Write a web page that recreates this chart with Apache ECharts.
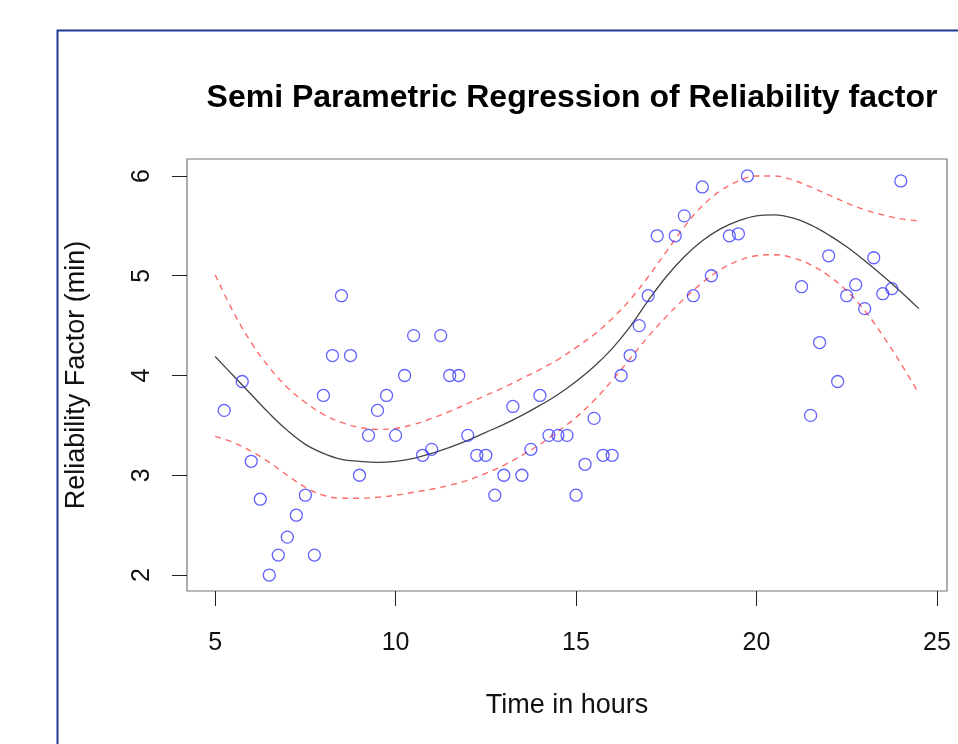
<!DOCTYPE html>
<html>
<head>
<meta charset="utf-8">
<script src="https://cdn.jsdelivr.net/npm/echarts@6/dist/echarts.min.js"></script>
<style>html,body{margin:0;padding:0;background:#fff;}#c{width:958px;height:744px;}</style>
</head>
<body>
<div id="c"></div>
<script>
// Observed data
var obsX = [5.25,5.75,6.0,6.25,6.5,6.75,7.0,7.25,7.5,7.75,8.0,8.25,8.5,8.75,9.0,9.25,9.5,9.75,10.0,10.25,10.5,10.75,11.0,11.25,11.5,11.75,12.0,12.25,12.5,12.75,13.0,13.25,13.5,13.75,14.0,14.25,14.5,14.75,15.0,15.25,15.5,15.75,16.0,16.25,16.5,16.75,17.0,17.25,17.5,17.75,18.0,18.25,18.5,18.75,19.25,19.5,19.75,21.25,21.5,21.75,22.0,22.25,22.5,22.75,23.0,23.25,23.5,23.75,24.0];
var obsY = [3.65,3.94,3.14,2.76,2.0,2.2,2.38,2.6,2.8,2.2,3.8,4.2,4.8,4.2,3.0,3.4,3.65,3.8,3.4,4.0,4.4,3.2,3.26,4.4,4.0,4.0,3.4,3.2,3.2,2.8,3.0,3.69,3.0,3.26,3.8,3.4,3.4,3.4,2.8,3.11,3.57,3.2,3.2,4.0,4.2,4.5,4.8,5.4,6.2,5.4,5.6,4.8,5.89,5.0,5.4,5.42,6.0,4.89,3.6,4.33,5.2,3.94,4.8,4.91,4.67,5.18,4.82,4.87,5.95];
// Fitted curve and confidence band (read every 0.5 h)
var fitX   = [5,5.5,6,6.5,7,7.5,8,8.5,9,9.5,10,10.5,11,11.5,12,12.5,13,13.5,14,14.5,15,15.5,16,16.5,17,17.5,18,18.5,19,19.5,20,20.5,21,21.5,22,22.5,23,23.5,24,24.5];
var fitY   = [4.19,4.00,3.81,3.62,3.45,3.31,3.22,3.16,3.14,3.13,3.14,3.17,3.22,3.28,3.35,3.43,3.51,3.60,3.70,3.81,3.94,4.09,4.27,4.49,4.75,4.99,5.19,5.35,5.47,5.55,5.60,5.61,5.58,5.51,5.41,5.29,5.15,5.00,4.84,4.67];
var upperY = [5.01,4.64,4.33,4.08,3.88,3.73,3.61,3.53,3.48,3.46,3.47,3.51,3.57,3.64,3.72,3.80,3.88,3.97,4.06,4.16,4.28,4.41,4.57,4.76,4.99,5.24,5.49,5.70,5.85,5.95,6.00,6.00,5.96,5.89,5.81,5.73,5.66,5.61,5.57,5.55];
var lowerY = [3.39,3.33,3.24,3.13,3.00,2.88,2.80,2.77,2.77,2.78,2.80,2.83,2.86,2.90,2.95,3.02,3.10,3.20,3.31,3.44,3.58,3.75,3.95,4.17,4.39,4.59,4.77,4.93,5.06,5.15,5.20,5.21,5.18,5.11,5.00,4.85,4.65,4.40,4.12,3.82];
var xTicks = [5,10,15,20,25];
var yTicks = [2,3,4,5,6];

function zip(a,b){return a.map(function(v,i){return [v,b[i]];});}

var chart = echarts.init(document.getElementById('c'), null, {renderer:'canvas'});
var font = 'Liberation Sans, Arial, Helvetica, sans-serif';
chart.setOption({
  animation:false,
  backgroundColor:'#fff',
  title:{
    text:'Semi Parametric Regression of Reliability factor',
    left:567, top:77, textAlign:'center',
    textStyle:{fontFamily:font, fontWeight:'bold', fontSize:32, color:'#000'}
  },
  graphic:[{type:'rect', left:55, top:28, shape:{width:1000,height:800}, style:{fill:'none', stroke:'#1c3a94', lineWidth:2}, silent:true}],
  grid:{left:187, top:159, right:11, bottom:153, show:true, borderColor:'#777', borderWidth:1.2, backgroundColor:'#fff'},
  xAxis:{
    type:'value', min:4.22, max:25.28,
    name:'Time in hours', nameLocation:'middle', nameGap:101,
    nameTextStyle:{fontFamily:font, fontSize:27, color:'#111'},
    axisLine:{show:false},
    splitLine:{show:false},
    axisTick:{show:true, length:15, customValues:xTicks, lineStyle:{color:'#222', width:1}},
    axisLabel:{customValues:xTicks, margin:40, fontFamily:font, fontSize:25, color:'#111'}
  },
  yAxis:{
    type:'value', min:1.84, max:6.17,
    name:'Reliability Factor (min)', nameLocation:'middle', nameGap:97, nameRotate:90,
    nameTextStyle:{fontFamily:font, fontSize:27, color:'#111'},
    axisLine:{show:false},
    splitLine:{show:false},
    axisTick:{show:true, length:15, customValues:yTicks, lineStyle:{color:'#222', width:1}},
    axisLabel:{customValues:yTicks, rotate:90, margin:32, fontFamily:font, fontSize:25, color:'#111'}
  },
  series:[
    {type:'scatter', data:zip(obsX,obsY), symbol:'circle', symbolSize:12, clip:true,
     itemStyle:{color:'rgba(0,0,0,0)', borderColor:'#3a3aff', borderWidth:1.3}, z:3},
    {type:'line', data:zip(fitX,fitY), smooth:0.4, showSymbol:false, symbol:'none',
     lineStyle:{color:'#444', width:1.3}, z:2},
    {type:'line', data:zip(fitX,upperY), smooth:0.4, showSymbol:false, symbol:'none',
     lineStyle:{color:'#ff6a6a', width:1.4, type:[6,5]}, z:2},
    {type:'line', data:zip(fitX,lowerY), smooth:0.4, showSymbol:false, symbol:'none',
     lineStyle:{color:'#ff6a6a', width:1.4, type:[6,5]}, z:2}
  ]
});
</script>
</body>
</html>
